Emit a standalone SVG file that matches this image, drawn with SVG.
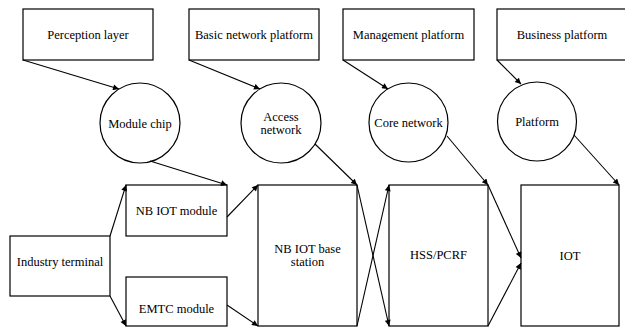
<svg xmlns="http://www.w3.org/2000/svg" width="625" height="327" viewBox="0 0 625 327">
<defs>
<marker id="ah" viewBox="0 0 10 10" refX="10" refY="5" markerWidth="8" markerHeight="6" markerUnits="userSpaceOnUse" orient="auto">
<path d="M0,0 L10,5 L0,10 Z" fill="#000"/>
</marker>
<style>
rect.n,circle{fill:#fff;stroke:#000;stroke-width:1.2}
.c line{stroke:#000;stroke-width:1.1;marker-end:url(#ah)}
</style>
</defs>
<rect width="625" height="327" fill="#fff"/>
<g id="perception"><rect class="n" x="23" y="9" width="130" height="51"/><text x="88" y="39" font-family="Liberation Serif, serif" font-size="12.5" text-anchor="middle">Perception layer</text></g>
<g id="basic"><rect class="n" x="189" y="9" width="130" height="51"/><text x="254" y="39" font-family="Liberation Serif, serif" font-size="12.5" text-anchor="middle">Basic network platform</text></g>
<g id="management"><rect class="n" x="343" y="9" width="131" height="51"/><text x="408.5" y="39" font-family="Liberation Serif, serif" font-size="12.5" text-anchor="middle">Management platform</text></g>
<g id="business"><rect class="n" x="497" y="9" width="131" height="51"/><text x="562" y="39" font-family="Liberation Serif, serif" font-size="12.5" text-anchor="middle">Business platform</text></g>
<g id="modulechip"><circle cx="140" cy="123" r="40"/><text x="140" y="128" font-family="Liberation Serif, serif" font-size="12.5" text-anchor="middle">Module chip</text></g>
<g id="access"><circle cx="281" cy="123" r="40"/><text x="281" y="121" font-family="Liberation Serif, serif" font-size="12.5" text-anchor="middle">Access</text><text x="281" y="134" font-family="Liberation Serif, serif" font-size="12.5" text-anchor="middle">network</text></g>
<g id="core"><circle cx="408.5" cy="122.5" r="39.5"/><text x="408.5" y="127" font-family="Liberation Serif, serif" font-size="12.5" text-anchor="middle">Core network</text></g>
<g id="platform"><circle cx="537" cy="121.5" r="39.5"/><text x="537" y="126" font-family="Liberation Serif, serif" font-size="12.5" text-anchor="middle">Platform</text></g>
<g id="industry"><rect class="n" x="10" y="236" width="100" height="60"/><text x="60" y="266" font-family="Liberation Serif, serif" font-size="12.5" text-anchor="middle">Industry terminal</text></g>
<g id="nbmodule"><rect class="n" x="126" y="185" width="101" height="51"/><text x="176.5" y="215" font-family="Liberation Serif, serif" font-size="12.5" text-anchor="middle">NB IOT module</text></g>
<g id="emtc"><rect class="n" x="126" y="277" width="101" height="49"/><text x="176.5" y="313" font-family="Liberation Serif, serif" font-size="12.5" text-anchor="middle">EMTC module</text></g>
<g id="basestation"><rect class="n" x="258" y="185" width="99" height="141"/><text x="307.5" y="253" font-family="Liberation Serif, serif" font-size="12.5" text-anchor="middle">NB IOT base</text><text x="307.5" y="266" font-family="Liberation Serif, serif" font-size="12.5" text-anchor="middle">station</text></g>
<g id="hss"><rect class="n" x="389" y="185" width="99" height="141"/><text x="438.5" y="259" font-family="Liberation Serif, serif" font-size="12.5" text-anchor="middle">HSS/PCRF</text></g>
<g id="iot"><rect class="n" x="521" y="185" width="98" height="141"/><text x="570" y="260" font-family="Liberation Serif, serif" font-size="12.5" text-anchor="middle">IOT</text></g>
<g class="c" id="connectors">
<line x1="23" y1="60" x2="119" y2="89"/>
<line x1="189" y1="60" x2="260" y2="89"/>
<line x1="343" y1="60" x2="388" y2="89"/>
<line x1="497" y1="60" x2="521" y2="84"/>
<line x1="150" y1="161" x2="227" y2="185"/>
<line x1="315" y1="144" x2="357" y2="185"/>
<line x1="447" y1="136" x2="488" y2="185"/>
<line x1="574" y1="135" x2="619" y2="185"/>
<line x1="110" y1="236" x2="126" y2="185"/>
<line x1="110" y1="296" x2="126" y2="326"/>
<line x1="227" y1="217" x2="258" y2="185"/>
<line x1="227" y1="305" x2="258" y2="326"/>
<line x1="357" y1="185" x2="389" y2="326"/>
<line x1="357" y1="326" x2="389" y2="185"/>
<line x1="488" y1="185" x2="521" y2="258"/>
<line x1="488" y1="326" x2="521" y2="263"/>
</g>
</svg>
